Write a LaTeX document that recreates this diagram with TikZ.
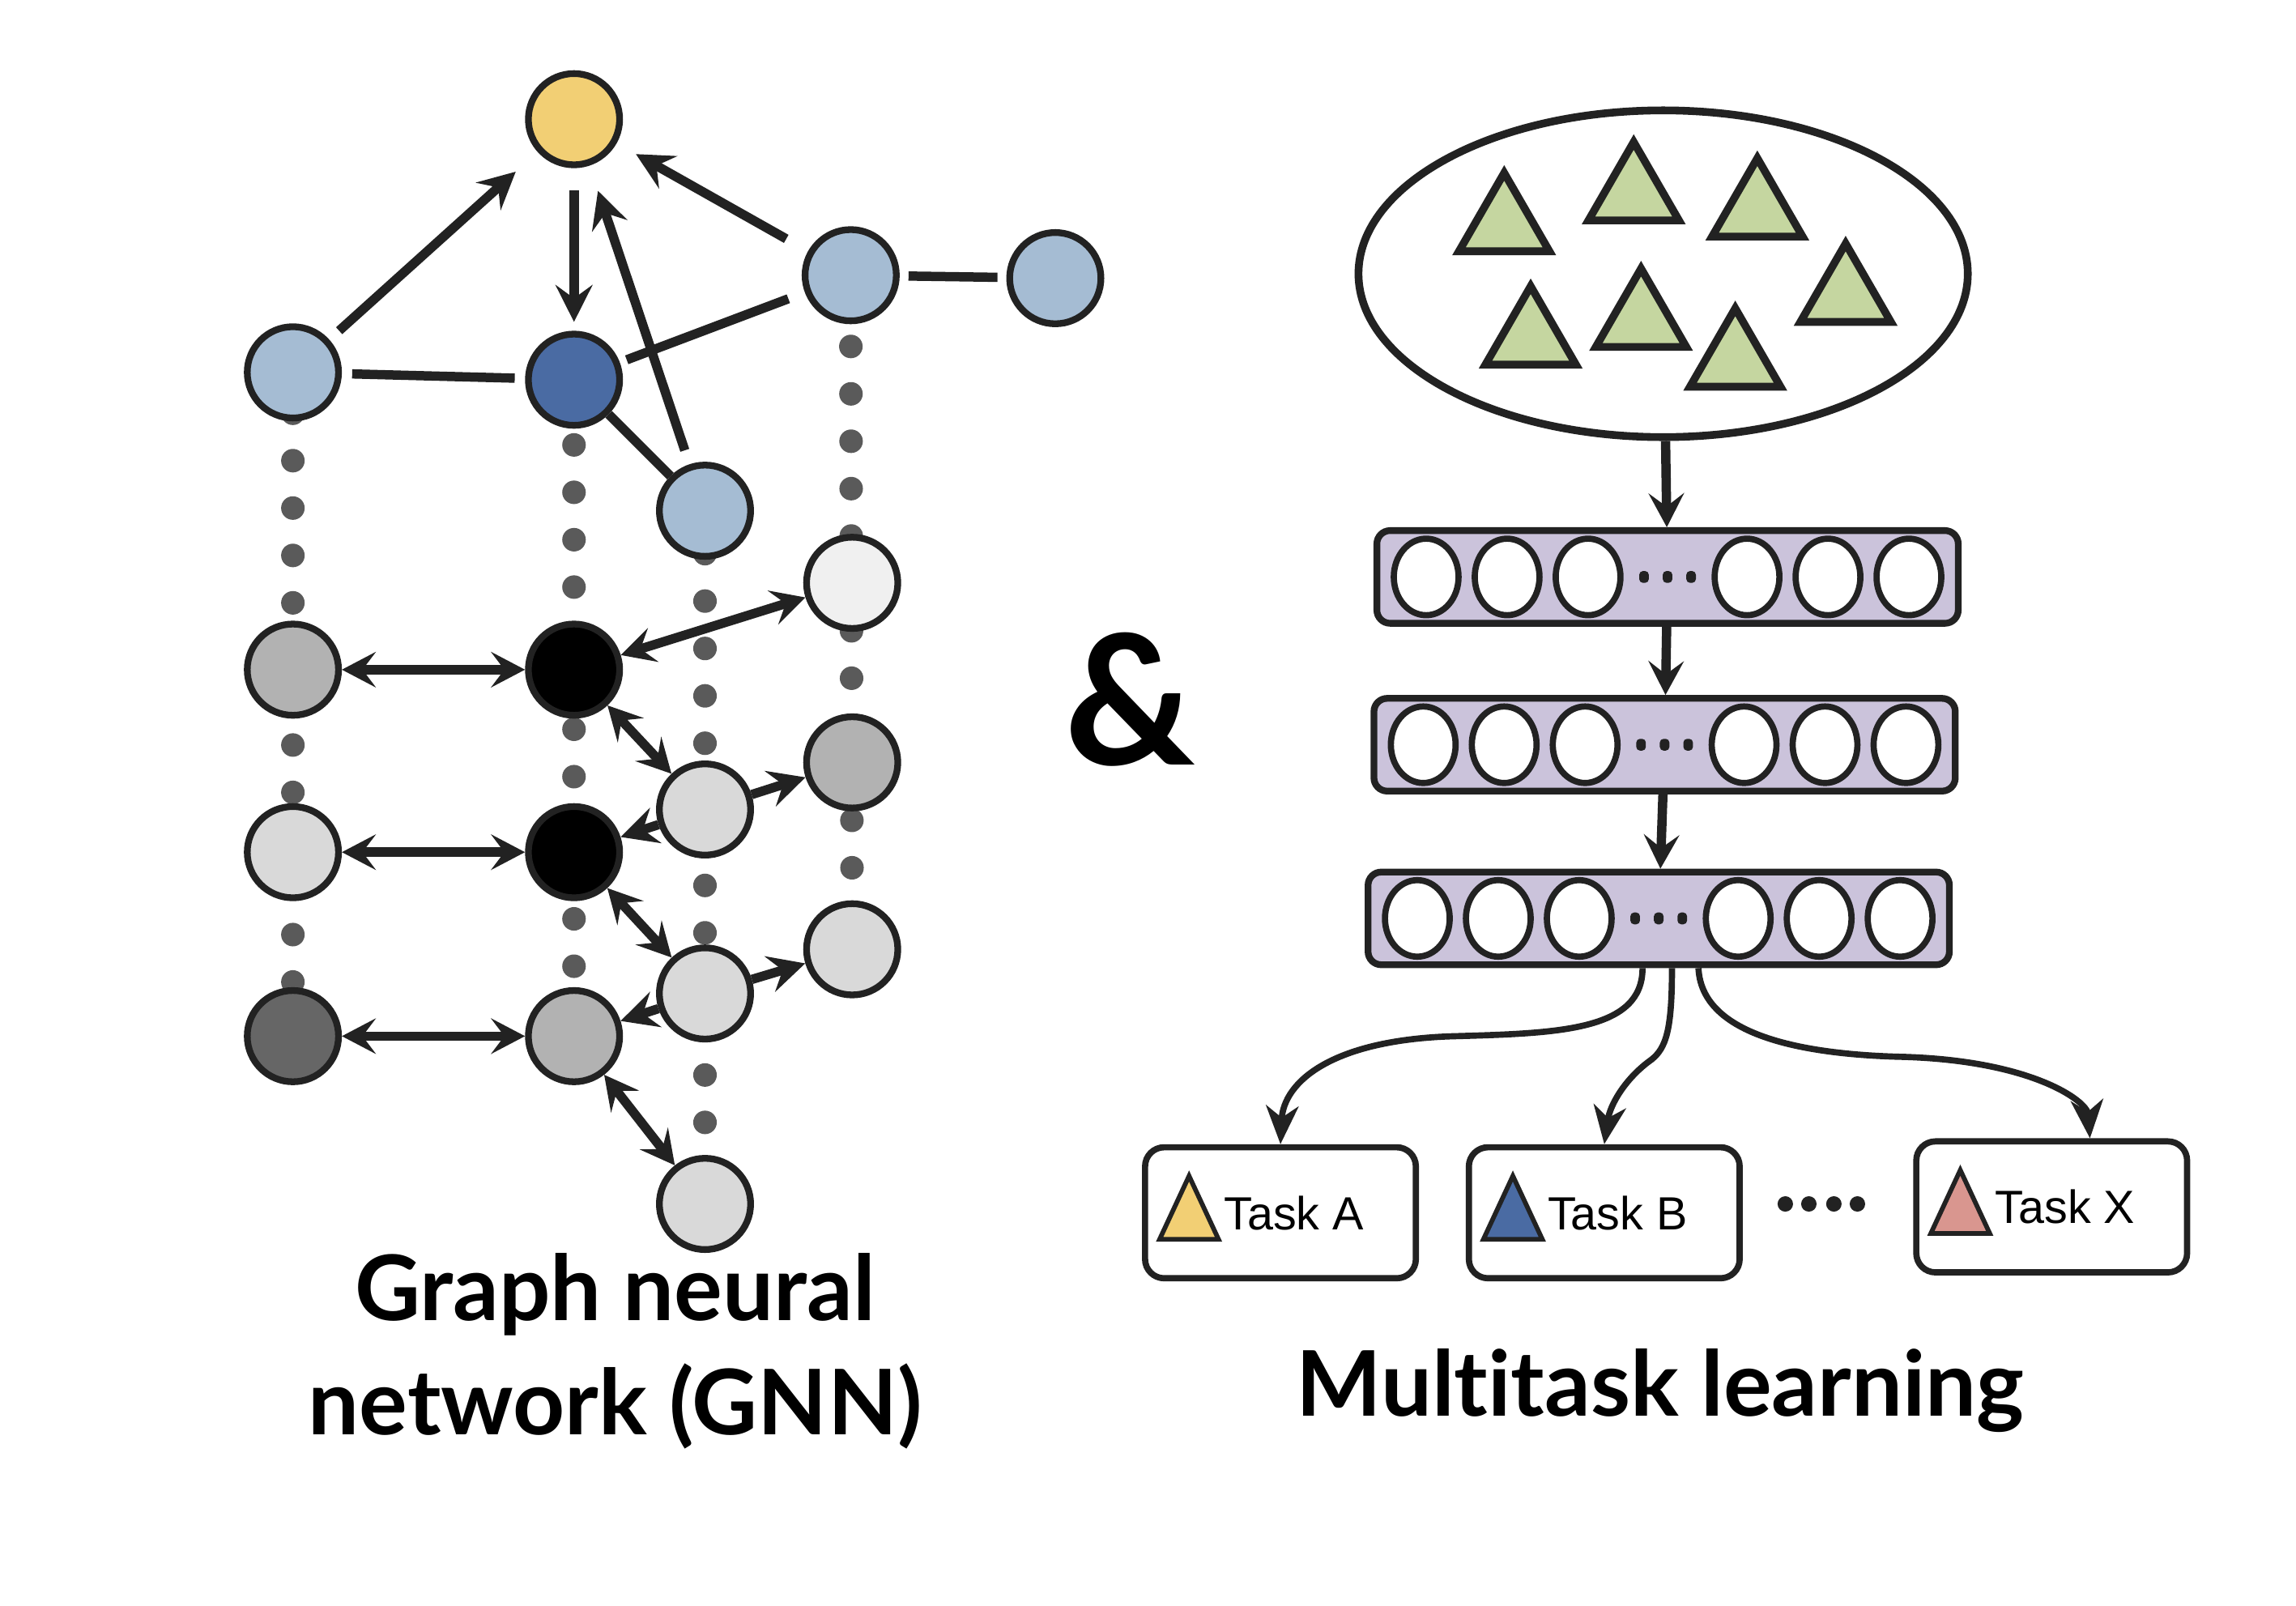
\documentclass[tikz,border=0pt]{standalone}
\usepackage{fontspec}
\setmainfont{Liberation Sans}
\newfontfamily\titlefont{Lato}[Ligatures={NoCommon}]
\usepackage{tikz}
\usetikzlibrary{arrows.meta,shapes.geometric,backgrounds}

\definecolor{ink}{HTML}{222222}
\definecolor{dotgray}{HTML}{5A5A5A}
\definecolor{gold}{HTML}{F2CF74}
\definecolor{paleblue}{HTML}{A5BCD3}
\definecolor{deepblue}{HTML}{4A6BA3}
\definecolor{lilac}{HTML}{CBC3DB}
\definecolor{sage}{HTML}{C5D6A0}
\definecolor{rose}{HTML}{D9968F}

\begin{document}
\begin{tikzpicture}[x=0.1mm, y=-0.1mm,
	vertex/.style={circle, draw=ink, line width=1.3pt, minimum size=6.2mm, inner sep=0pt},
	link/.style={draw=ink, line width=1.8pt},
	oneway/.style={link, -{Stealth[length=2.5mm, width=2.5mm, inset=0.9mm]}},
	twoway/.style={link, {Stealth[length=2.3mm, width=2.4mm, inset=0.9mm]}-{Stealth[length=2.3mm, width=2.4mm, inset=0.9mm]}},
	trail/.style={draw=dotgray, line width=1.6mm, line cap=round, dash pattern=on 0pt off 3.22mm},
	pool/.style={ellipse, draw=ink, line width=1.5pt, minimum width=41.4mm, minimum height=22.2mm, inner sep=0pt},
	seed/.style={regular polygon, regular polygon sides=3, draw=ink, fill=sage, line width=1.5pt, minimum size=7.1mm, inner sep=0pt},
	band/.style={rectangle, rounded corners=0.9mm, draw=ink, fill=lilac, line width=1.3pt, minimum width=39.5mm, minimum height=6.3mm, inner sep=0pt},
	unit/.style={ellipse, draw=ink, fill=white, line width=1.2pt, minimum width=4.4mm, minimum height=5.2mm, inner sep=0pt},
	pip/.style={rectangle, rounded corners=0.25mm, fill=ink, minimum width=0.65mm, minimum height=0.8mm, inner sep=0pt},
	bead/.style={circle, fill=ink, minimum size=1.05mm, inner sep=0pt},
	flow/.style={link, -{Stealth[length=2.3mm, width=2.4mm, inset=0.9mm]}},
	taskedge/.style={draw=ink, line width=1.2pt, -{Stealth[length=2.6mm, width=2.2mm, inset=0.8mm]}},
	task/.style={rectangle, rounded corners=1.3mm, draw=ink, fill=white, line width=1.2pt, minimum width=18.4mm, minimum height=8.9mm, inner sep=0pt},
	flag/.style={draw=ink, line width=0.9pt},
	tasktext/.style={anchor=west, inner sep=0pt, font=\fontsize{9}{11}\selectfont},
	heading/.style={font=\titlefont\bfseries\fontsize{17.5}{22.2}\selectfont, inner sep=0pt}
]

\useasboundingbox (0,0) rectangle (1560,1091);

\node[vertex, fill=gold] (v0) at (390,81) {};
\node[vertex, fill=paleblue] (v1) at (199,253) {};
\node[vertex, fill=deepblue] (v2) at (390,258) {};
\node[vertex, fill=paleblue] (v3) at (578,187) {};
\node[vertex, fill=paleblue] (v4) at (717,189) {};
\node[vertex, fill=paleblue] (v5) at (479,347) {};

\node[vertex, fill=black!30] (p1) at (199,455) {};
\node[vertex, fill=black!15] (p2) at (199,579) {};
\node[vertex, fill=black!60] (p3) at (199,704) {};

\node[vertex, fill=black] (q1) at (390,455) {};
\node[vertex, fill=black] (q2) at (390,579) {};
\node[vertex, fill=black!30] (q3) at (390,704) {};

\node[vertex, fill=black!15] (r1) at (479,550) {};
\node[vertex, fill=black!15] (r2) at (479,675) {};
\node[vertex, fill=black!15] (r3) at (479,818) {};

\node[vertex, fill=black!6] (s1) at (579,396) {};
\node[vertex, fill=black!30] (s2) at (579,518) {};
\node[vertex, fill=black!15] (s3) at (579,645) {};

\begin{pgfonlayer}{background}
\path (v1.center) edge [trail, dash phase=0.44mm] (p3.center);
\path (v2.center) edge [trail, dash phase=2.01mm] (q3.center);
\path (v5.center) edge [trail, dash phase=0.3mm] (r3.center);
\path (v3.center) edge [trail, dash phase=1.6mm] (s3.center);
\end{pgfonlayer}

\path (v1) edge [oneway, shorten <=0.9mm, shorten >=2mm] (v0);
\path (v0) edge [oneway, shorten <=1.5mm, shorten >=0.6mm] (v2);
\path (v5) edge [oneway, shorten <=1mm, shorten >=1.8mm] (v0);
\path (v3) edge [oneway, shorten <=1.7mm, shorten >=1.5mm] (v0);
\path (v1) edge [link, shorten <=0.7mm, shorten >=0.7mm] (v2);
\path (v2) edge [link, shorten <=0.5mm, shorten >=1.2mm] (v3);
\path (v2) edge [link] (v5);
\path (v3) edge [link, shorten <=0.6mm, shorten >=0.6mm] (v4);

\path (p1) edge [twoway] (q1);
\path (p2) edge [twoway] (q2);
\path (p3) edge [twoway] (q3);
\path (q1) edge [twoway] (s1);
\path (q1) edge [twoway] (r1);
\path (r1) edge [oneway] (q2);
\path (r1) edge [oneway] (s2);
\path (q2) edge [twoway] (r2);
\path (r2) edge [oneway] (q3);
\path (r2) edge [oneway] (s3);
\path (q3) edge [twoway] (r3);

\node[heading, align=center] (gnn) at (418,918) {Graph neural\\network (GNN)};

\node[font=\titlefont\bfseries\fontsize{35}{40}\selectfont, anchor=base, inner sep=0pt] (amp) at (768,520) {\&};

\node[pool] (pool) at (1130,186) {};
\node[seed] (t1) at (1022,153) {};
\node[seed] (t2) at (1110,132) {};
\node[seed] (t3) at (1194,143) {};
\node[seed] (t4) at (1040,230) {};
\node[seed] (t5) at (1115,218) {};
\node[seed] (t6) at (1179,245) {};
\node[seed] (t7) at (1254,201) {};

\node[band] (h1) at (1133,392) {};
\node[band] (h2) at (1131,506) {};
\node[band] (h3) at (1127,624) {};

\node[unit] (u11) at (969,392) {};
\node[unit] (u12) at (1024,392) {};
\node[unit] (u13) at (1079,392) {};
\node[pip] (d11) at (1117,392) {};
\node[pip] (d12) at (1133,392) {};
\node[pip] (d13) at (1149,392) {};
\node[unit] (u14) at (1187,392) {};
\node[unit] (u15) at (1242,392) {};
\node[unit] (u16) at (1297,392) {};

\node[unit] (u21) at (967,506) {};
\node[unit] (u22) at (1022,506) {};
\node[unit] (u23) at (1077,506) {};
\node[pip] (d21) at (1115,506) {};
\node[pip] (d22) at (1131,506) {};
\node[pip] (d23) at (1147,506) {};
\node[unit] (u24) at (1185,506) {};
\node[unit] (u25) at (1240,506) {};
\node[unit] (u26) at (1295,506) {};

\node[unit] (u31) at (963,624) {};
\node[unit] (u32) at (1018,624) {};
\node[unit] (u33) at (1073,624) {};
\node[pip] (d31) at (1111,624) {};
\node[pip] (d32) at (1127,624) {};
\node[pip] (d33) at (1143,624) {};
\node[unit] (u34) at (1181,624) {};
\node[unit] (u35) at (1236,624) {};
\node[unit] (u36) at (1291,624) {};

\path (pool) edge [flow] (h1);
\path (h1) edge [flow] (h2);
\path (h2) edge [flow] (h3);

\node[task] (ta) at (870,824) {};
\node[task] (tb) at (1090,824) {};
\node[task] (tx) at (1394,820) {};

\draw[flag, fill=gold] ([shift={(1.2mm,-1.8mm)}]ta.west) -- ++(40,0) -- ++(-20,-43) -- cycle;
\draw[flag, fill=deepblue] ([shift={(1.2mm,-1.8mm)}]tb.west) -- ++(40,0) -- ++(-20,-43) -- cycle;
\draw[flag, fill=rose] ([shift={(1.2mm,-1.8mm)}]tx.west) -- ++(40,0) -- ++(-20,-43) -- cycle;

\node[tasktext] (na) at ([xshift=5.5mm]ta.west) {Task A};
\node[tasktext] (nb) at ([xshift=5.5mm]tb.west) {Task B};
\node[tasktext] (nx) at ([xshift=5.5mm]tx.west) {Task X};

\node[bead] (e1) at (1213,818) {};
\node[bead] (e2) at (1229,818) {};
\node[bead] (e3) at (1246,818) {};
\node[bead] (e4) at (1262,818) {};

\draw[taskedge] ([xshift=-1.1mm]h3.south) .. controls (1116,700) and (1060,702) .. (990,704) .. controls (905,706) and (872,735) .. (ta.north);
\draw[taskedge] ([xshift=0.9mm]h3.south) .. controls (1136,700) and (1132,712) .. (1122,720) .. controls (1105,732) and (1094,750) .. (tb.north);
\draw[taskedge] ([xshift=2.7mm]h3.south) .. controls (1156,702) and (1220,716) .. (1290,718) .. controls (1380,720) and (1418,748) .. ([xshift=2.6mm]tx.north);

\node[heading, anchor=base] (mtl) at (1128,962) {Multitask learning};

\end{tikzpicture}
\end{document}
